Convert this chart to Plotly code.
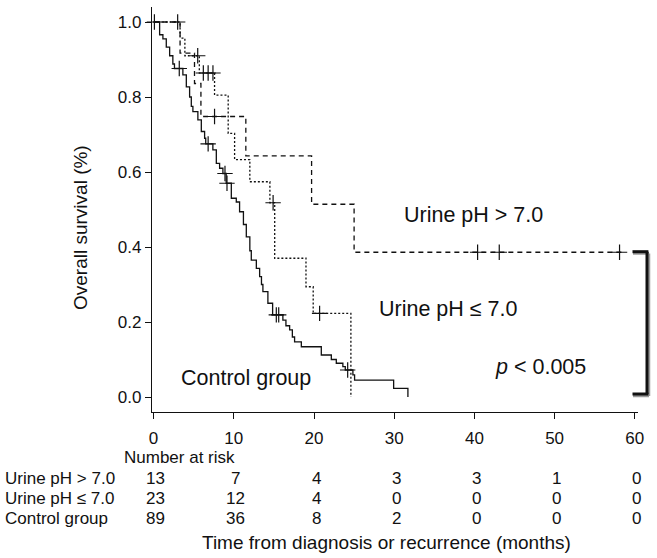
import plotly.graph_objects as go

# ---------------- data ----------------
# Urine pH > 7.0 (dashed)
t_gt = [0, 3.3, 5.1, 5.9, 11.5, 19.7, 25.0, 58.7]
s_gt = [1.0, 0.917, 0.836, 0.748, 0.643, 0.514, 0.386, 0.386]
cens_t_gt = [3.0, 7.6, 40.4, 43.1, 58.1]
cens_s_gt = [1.0, 0.748, 0.386, 0.386, 0.386]

# Urine pH <= 7.0 (dotted)
t_le = [0, 3.3, 3.9, 5.7, 7.6, 9.3, 10.1, 12.0, 14.5, 15.1, 19.0, 19.9, 24.6]
s_le = [1.0, 0.957, 0.910, 0.864, 0.805, 0.703, 0.633, 0.574, 0.518, 0.370, 0.294, 0.223, 0.0]
cens_t_le = [5.5, 6.2, 6.8, 7.4, 14.9, 20.7]
cens_s_le = [0.910, 0.864, 0.864, 0.864, 0.518, 0.223]

# Control group (solid)
t_ct = [0, 0.75, 1.16, 1.58, 2.0, 2.4, 2.6, 3.65, 4.08, 4.49, 4.7, 4.9, 5.52, 5.95,
        6.36, 6.5, 7.39, 7.82, 8.23, 8.64, 9.05, 9.69, 10.31, 10.72, 11.2, 11.56,
        12.0, 12.18, 12.81, 13.22, 13.45, 13.63, 14.25, 14.84, 16.12, 16.5, 16.96,
        17.3, 17.58, 18.42, 20.91, 22.16, 22.78, 23.6, 23.9, 24.85, 25.06, 29.93, 31.71]
s_ct = [1.0, 0.966, 0.955, 0.933, 0.910, 0.888, 0.876, 0.859, 0.827, 0.800, 0.775,
        0.761, 0.739, 0.708, 0.690, 0.675, 0.659, 0.623, 0.610, 0.596, 0.570, 0.530,
        0.520, 0.494, 0.460, 0.427, 0.390, 0.365, 0.343, 0.321, 0.300, 0.281, 0.250,
        0.219, 0.205, 0.190, 0.179, 0.160, 0.147, 0.134, 0.112, 0.100, 0.090, 0.081,
        0.072, 0.059, 0.045, 0.023, 0.0]
cens_t_ct = [0.1, 3.2, 6.8, 8.9, 9.15, 15.3, 15.6, 24.2]
cens_s_ct = [1.0, 0.876, 0.675, 0.596, 0.570, 0.219, 0.219, 0.072]

x_ticks = [0, 10, 20, 30, 40, 50, 60]
y_ticks = [0.0, 0.2, 0.4, 0.6, 0.8, 1.0]
y_ticktext = ["0.0", "0.2", "0.4", "0.6", "0.8", "1.0"]

risk_rows = ["Urine pH > 7.0", "Urine pH \u2264 7.0", "Control group"]
risk_gt = [13, 7, 4, 3, 3, 1, 0]
risk_le = [23, 12, 4, 0, 0, 0, 0]
risk_ct = [89, 36, 8, 2, 0, 0, 0]

FONT = "Liberation Sans, Arial, Helvetica, sans-serif"
BLACK = "#111111"

fig = go.Figure()

def km(t, s, dash):
    fig.add_trace(go.Scatter(x=t, y=s, mode="lines",
                             line=dict(shape="hv", color=BLACK, width=1.3, dash=dash),
                             hoverinfo="skip"))

def cens(t, s):
    fig.add_trace(go.Scatter(x=t, y=s, mode="markers", cliponaxis=False,
                             marker=dict(symbol="cross-thin", size=11,
                                         line=dict(width=1.2, color=BLACK)),
                             hoverinfo="skip"))

km(t_ct, s_ct, "solid")
km(t_le, s_le, "2px,2px")
km(t_gt, s_gt, "5px,4px")
cens(cens_t_ct, cens_s_ct)
cens(cens_t_le, cens_s_le)
cens(cens_t_gt, cens_s_gt)

# ---------------- layout ----------------
L, R, T, B = 152, 19, 7, 146
W, H = 657, 558
pw = W - L - R
ph = H - T - B

def px_x(px):
    return (px - L) / pw

fig.update_layout(
    width=W, height=H,
    margin=dict(l=L, r=R, t=T, b=B, pad=0),
    plot_bgcolor="white", paper_bgcolor="white",
    showlegend=False,
    font=dict(family=FONT, color=BLACK),
    xaxis=dict(range=[-0.2, 60.4], tickvals=x_ticks, showline=True, linecolor=BLACK,
               linewidth=1.3, ticks="outside", ticklen=6, tickwidth=1.2, tickcolor=BLACK,
               showgrid=False, zeroline=False, automargin=False, ticklabelstandoff=4,
               tickfont=dict(size=17, family=FONT, color=BLACK)),
    yaxis=dict(range=[-0.04, 1.04], tickvals=y_ticks, ticktext=y_ticktext, showline=True,
               linecolor=BLACK, linewidth=1.3, ticks="outside", ticklen=6, tickwidth=1.2,
               tickcolor=BLACK, showgrid=False, zeroline=False, automargin=False,
               tickfont=dict(size=17, family=FONT, color=BLACK)),
)

ann = []
# Curve labels
ann.append(dict(x=39.9, y=0.485, xref="x", yref="y", text="Urine pH > 7.0", showarrow=False,
                font=dict(size=21.5, family=FONT, color=BLACK)))
ann.append(dict(x=36.8, y=0.235, xref="x", yref="y", text="Urine pH \u2264 7.0", showarrow=False,
                font=dict(size=21.5, family=FONT, color=BLACK)))
ann.append(dict(x=11.5, y=0.05, xref="x", yref="y", text="Control group", showarrow=False,
                font=dict(size=21.5, family=FONT, color=BLACK)))
ann.append(dict(x=48.3, y=0.08, xref="x", yref="y", text="<i>p</i> < 0.005", showarrow=False,
                font=dict(size=21.5, family=FONT, color=BLACK)))

# Y axis title
ann.append(dict(x=px_x(81), y=(H - B - 228) / ph, xref="paper", yref="paper",
                xanchor="center", yanchor="middle",
                text="Overall survival (%)", textangle=-90, showarrow=False,
                font=dict(size=19, family=FONT, color=BLACK)))
# X axis title
ann.append(dict(x=px_x(386), y=0, xref="paper", yref="paper", yshift=-130,
                xanchor="center", text="Time from diagnosis or recurrence (months)",
                showarrow=False, yanchor="middle",
                font=dict(size=19, family=FONT, color=BLACK)))

# Risk table
ann.append(dict(x=px_x(179), y=0, xref="paper", yref="paper", yshift=-45, yanchor="middle",
                xanchor="center", text="Number at risk", showarrow=False,
                font=dict(size=17, family=FONT, color=BLACK)))
row_shift = [-66, -86, -106]
for name, vals, ys in zip(risk_rows, [risk_gt, risk_le, risk_ct], row_shift):
    ann.append(dict(x=px_x(3), y=0, xref="paper", yref="paper", yshift=ys, yanchor="middle",
                    xanchor="left", text=name, showarrow=False,
                    font=dict(size=17, family=FONT, color=BLACK)))
    for xv, v in zip(x_ticks, vals):
        ann.append(dict(x=xv, y=0, xref="x", yref="paper", yshift=ys, xshift=2,
                        xanchor="center", yanchor="middle", text=str(v), showarrow=False,
                        font=dict(size=17, family=FONT, color=BLACK)))
fig.update_layout(annotations=ann)

# Bracket (significance) on the right
def py(pyv):
    return (H - B - pyv) / ph

shapes = []
# shadow
for (x0, y0, x1, y1) in [(649, 253.5, 649, 396), (633, 253.5, 649, 253.5), (633, 396, 649, 396)]:
    shapes.append(dict(type="line", xref="paper", yref="paper", x0=px_x(x0), x1=px_x(x1),
                       y0=py(y0), y1=py(y1), line=dict(color="#9a9a9a", width=2.5)))
for (x0, y0, x1, y1) in [(647, 251.7, 647, 394), (632.5, 251.7, 648.4, 251.7), (632.5, 394, 648.4, 394)]:
    shapes.append(dict(type="line", xref="paper", yref="paper", x0=px_x(x0), x1=px_x(x1),
                       y0=py(y0), y1=py(y1), line=dict(color=BLACK, width=3)))
fig.update_layout(shapes=shapes)

fig.write_html("out.html", config={"displayModeBar": False},
               post_script="document.body.style.margin='0px';document.body.style.padding='0px';")
